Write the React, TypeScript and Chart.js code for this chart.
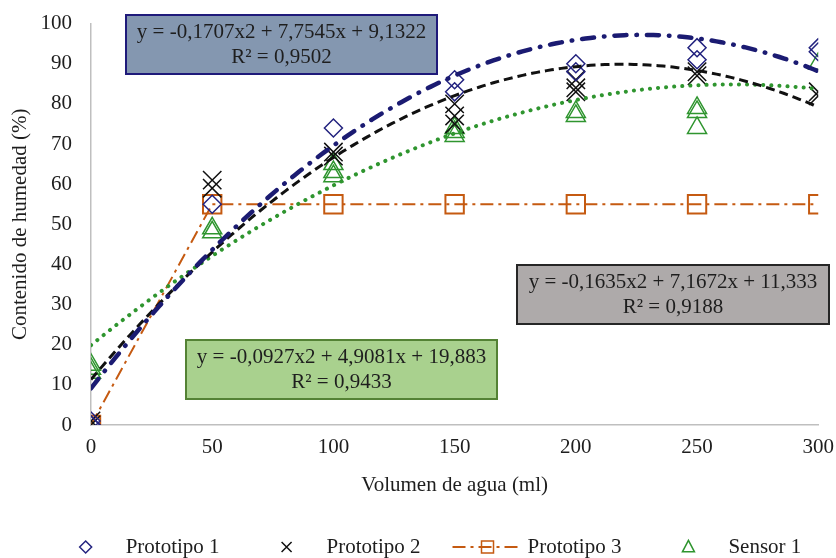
import React, { useEffect, useRef } from 'react';
import { Chart, registerables } from 'chart.js';

Chart.register(...registerables);

// ---- data ----
const volumes = [0, 50, 100, 150, 200, 250, 300];
const proto1 = [[0, 0, 1], [55], [74], [86, 83], [90, 88], [94, 91], [94, 93]];
const proto2 = [[0, 1], [61, 59], [68, 67], [80, 77, 75], [86, 84, 83], [88, 87], [83, 82]];
const proto3 = [0, 55, 55, 55, 55, 55, 55];
const sensor1 = [[13, 14, 15], [49, 48], [65, 63, 62], [74, 72, 73], [78, 77], [79, 78, 74], [90]];

// trendline coefficients (a, b, c) of y = a x^2 + b x + c, with x = volume / 10
const trend1 = [-0.1707, 7.7545, 9.1322];
const trend2 = [-0.1635, 7.1672, 11.333];
const trend3 = [-0.0927, 4.9081, 19.883];

const eq1 = ['y = -0,1707x2 + 7,7545x + 9,1322', 'R² = 0,9502'];
const eq2 = ['y = -0,1635x2 + 7,1672x + 11,333', 'R² = 0,9188'];
const eq3 = ['y = -0,0927x2 + 4,9081x + 19,883', 'R² = 0,9433'];

const legendLabels = ['Prototipo 1', 'Prototipo 2', 'Prototipo 3', 'Sensor 1'];
const xTitle = 'Volumen de agua (ml)';
const yTitle = 'Contenido de humedad (%)';

// ---- styles ----
const FONT = "'Liberation Serif', 'Times New Roman', serif";
const FS = 21;
const TXT = '#1e1e1e';
const C1 = '#23237f';
const C1L = '#1b1b72';
const C2 = '#111111';
const C3 = '#c55a11';
const C4 = '#2f952f';

const pts = (vals: number[][]) =>
  volumes.flatMap((v, i) => vals[i].map((y) => ({ x: v, y })));

const trendPts = (c: number[]) => {
  const out: { x: number; y: number }[] = [];
  for (let v = 0; v <= 300; v += 2) {
    const t = v / 10;
    out.push({ x: v, y: c[0] * t * t + c[1] * t + c[2] });
  }
  return out;
};

function drawMarker(ctx: CanvasRenderingContext2D, kind: string, x: number, y: number, s: number, color: string) {
  ctx.save();
  ctx.strokeStyle = color;
  ctx.lineWidth = 1.5;
  ctx.setLineDash([]);
  ctx.beginPath();
  if (kind === 'diamond') {
    ctx.moveTo(x, y - s);
    ctx.lineTo(x + s, y);
    ctx.lineTo(x, y + s);
    ctx.lineTo(x - s, y);
    ctx.closePath();
  } else if (kind === 'cross') {
    ctx.moveTo(x - s, y - s);
    ctx.lineTo(x + s, y + s);
    ctx.moveTo(x + s, y - s);
    ctx.lineTo(x - s, y + s);
  } else if (kind === 'square') {
    ctx.rect(x - s, y - s, 2 * s, 2 * s);
  } else if (kind === 'triangle') {
    ctx.moveTo(x, y - s * 1.1);
    ctx.lineTo(x + s, y + s * 0.8);
    ctx.lineTo(x - s, y + s * 0.8);
    ctx.closePath();
  }
  ctx.stroke();
  ctx.restore();
}

const boxes = [
  { lines: eq1, x: 126, y: 15, w: 311, h: 59, fill: '#8497b0', border: '#1f1a7a' },
  { lines: eq2, x: 517, y: 265, w: 312, h: 59, fill: '#aeaaaa', border: '#262626' },
  { lines: eq3, x: 186, y: 340, w: 311, h: 59, fill: '#a9d18e', border: '#548235' },
];

const overlayPlugin = {
  id: 'overlay',
  afterDraw(chart: any) {
    const ctx: CanvasRenderingContext2D = chart.ctx;
    ctx.save();
    // equation boxes
    for (const b of boxes) {
      ctx.fillStyle = b.fill;
      ctx.fillRect(b.x, b.y, b.w, b.h);
      ctx.strokeStyle = b.border;
      ctx.lineWidth = 2;
      ctx.strokeRect(b.x, b.y, b.w, b.h);
      ctx.fillStyle = TXT;
      ctx.font = `${FS}px ${FONT}`;
      ctx.textAlign = 'center';
      ctx.textBaseline = 'middle';
      ctx.fillText(b.lines[0], b.x + b.w / 2, b.y + 17);
      ctx.fillText(b.lines[1], b.x + b.w / 2, b.y + 42);
    }
    // legend
    ctx.font = `${FS}px ${FONT}`;
    ctx.textAlign = 'left';
    ctx.textBaseline = 'middle';
    const symW = 70;
    const gapT = 5;
    const gapI = 32;
    const widths = legendLabels.map((l) => ctx.measureText(l).width);
    const total = widths.reduce((a, w) => a + symW + gapT + w, 0) + gapI * (legendLabels.length - 1);
    let x = 426 - total / 2;
    const ly = 547;
    const kinds = ['diamond', 'cross', 'square', 'triangle'];
    const cols = [C1, C2, C3, C4];
    legendLabels.forEach((l, i) => {
      const cx = x + symW / 2;
      if (i === 2) {
        ctx.save();
        ctx.strokeStyle = C3;
        ctx.lineWidth = 2;
        ctx.setLineDash([13, 5, 3, 5]);
        ctx.beginPath();
        ctx.moveTo(x, ly);
        ctx.lineTo(x + symW, ly);
        ctx.stroke();
        ctx.restore();
        drawMarker(ctx, 'square', cx, ly, 6, C3);
      } else {
        drawMarker(ctx, kinds[i], cx, ly, i === 1 ? 5 : 6, cols[i]);
      }
      ctx.fillStyle = TXT;
      ctx.fillText(l, x + symW + gapT, ly);
      x += symW + gapT + widths[i] + gapI;
    });
    ctx.restore();
  },
};

export default function App() {
  const ref = useRef<HTMLCanvasElement | null>(null);
  useEffect(() => {
    document.body.style.margin = '0';
    const canvas = ref.current;
    if (!canvas) return;
    const chart = new Chart(canvas, {
      type: 'scatter',
      data: {
        datasets: [
          {
            label: 'Tendencia Prototipo 1',
            data: trendPts(trend1),
            showLine: true,
            pointRadius: 0,
            borderColor: C1L,
            borderWidth: 4.5,
            borderDash: [12, 10, 0.5, 10],
            borderCapStyle: 'round',
            order: 1,
          } as any,
          {
            label: 'Tendencia Prototipo 2',
            data: trendPts(trend2),
            showLine: true,
            pointRadius: 0,
            borderColor: C2,
            borderWidth: 3,
            borderDash: [9, 5],
            order: 2,
          },
          {
            label: 'Tendencia Sensor 1',
            data: trendPts(trend3),
            showLine: true,
            pointRadius: 0,
            borderColor: C4,
            borderWidth: 4,
            borderDash: [0.1, 8],
            borderCapStyle: 'round',
            order: 3,
          } as any,
          {
            label: 'Prototipo 1',
            data: pts(proto1),
            pointStyle: 'rectRot',
            pointRadius: 9,
            pointBorderWidth: 1.5,
            pointBorderColor: C1,
            pointBackgroundColor: 'rgba(0,0,0,0)',
            order: 4,
          },
          {
            label: 'Prototipo 2',
            data: pts(proto2),
            pointStyle: 'crossRot',
            pointRadius: 13,
            pointBorderWidth: 1.5,
            pointBorderColor: C2,
            order: 5,
          },
          {
            label: 'Prototipo 3',
            data: volumes.map((v, i) => ({ x: v, y: proto3[i] })),
            showLine: true,
            borderColor: C3,
            borderWidth: 2,
            borderDash: [13, 5, 3, 5],
            pointStyle: 'rect',
            pointRadius: 13,
            pointBorderWidth: 2,
            pointBorderColor: C3,
            pointBackgroundColor: 'rgba(0,0,0,0)',
            order: 6,
          },
          {
            label: 'Sensor 1',
            data: pts(sensor1),
            pointStyle: 'triangle',
            pointRadius: 11,
            pointBorderWidth: 1.5,
            pointBorderColor: C4,
            pointBackgroundColor: 'rgba(0,0,0,0)',
            order: 7,
          },
        ],
      },
      options: {
        responsive: false,
        animation: false,
        layout: { padding: { left: 4, right: -8, top: -4, bottom: 58 } },
        plugins: {
          legend: { display: false },
          tooltip: { enabled: false },
        },
        scales: {
          x: {
            type: 'linear',
            min: 0,
            max: 300,
            grid: { display: false },
            border: { display: true, color: '#bfbfbf', width: 1.5 },
            afterFit: (s: any) => {
              s.height = 75;
            },
            ticks: { stepSize: 50, padding: 2, color: TXT, font: { family: FONT, size: FS } },
            title: {
              display: true,
              text: xTitle,
              color: TXT,
              font: { family: FONT, size: FS },
              padding: { top: 10, bottom: 2 },
            },
          },
          y: {
            min: 0,
            max: 100,
            grid: { display: false },
            border: { display: true, color: '#bfbfbf', width: 1.5 },
            afterFit: (s: any) => {
              s.width = 87;
            },
            ticks: { stepSize: 10, padding: 11, color: TXT, font: { family: FONT, size: FS } },
            title: {
              display: true,
              text: yTitle,
              color: TXT,
              font: { family: FONT, size: FS },
              padding: { top: 4, bottom: 4 },
            },
          },
        },
      },
      plugins: [overlayPlugin],
    } as any);
    return () => chart.destroy();
  }, []);
  return (
    <canvas
      ref={ref}
      width={836}
      height={558}
      style={{ display: 'block', width: 836, height: 558 }}
    />
  );
}
